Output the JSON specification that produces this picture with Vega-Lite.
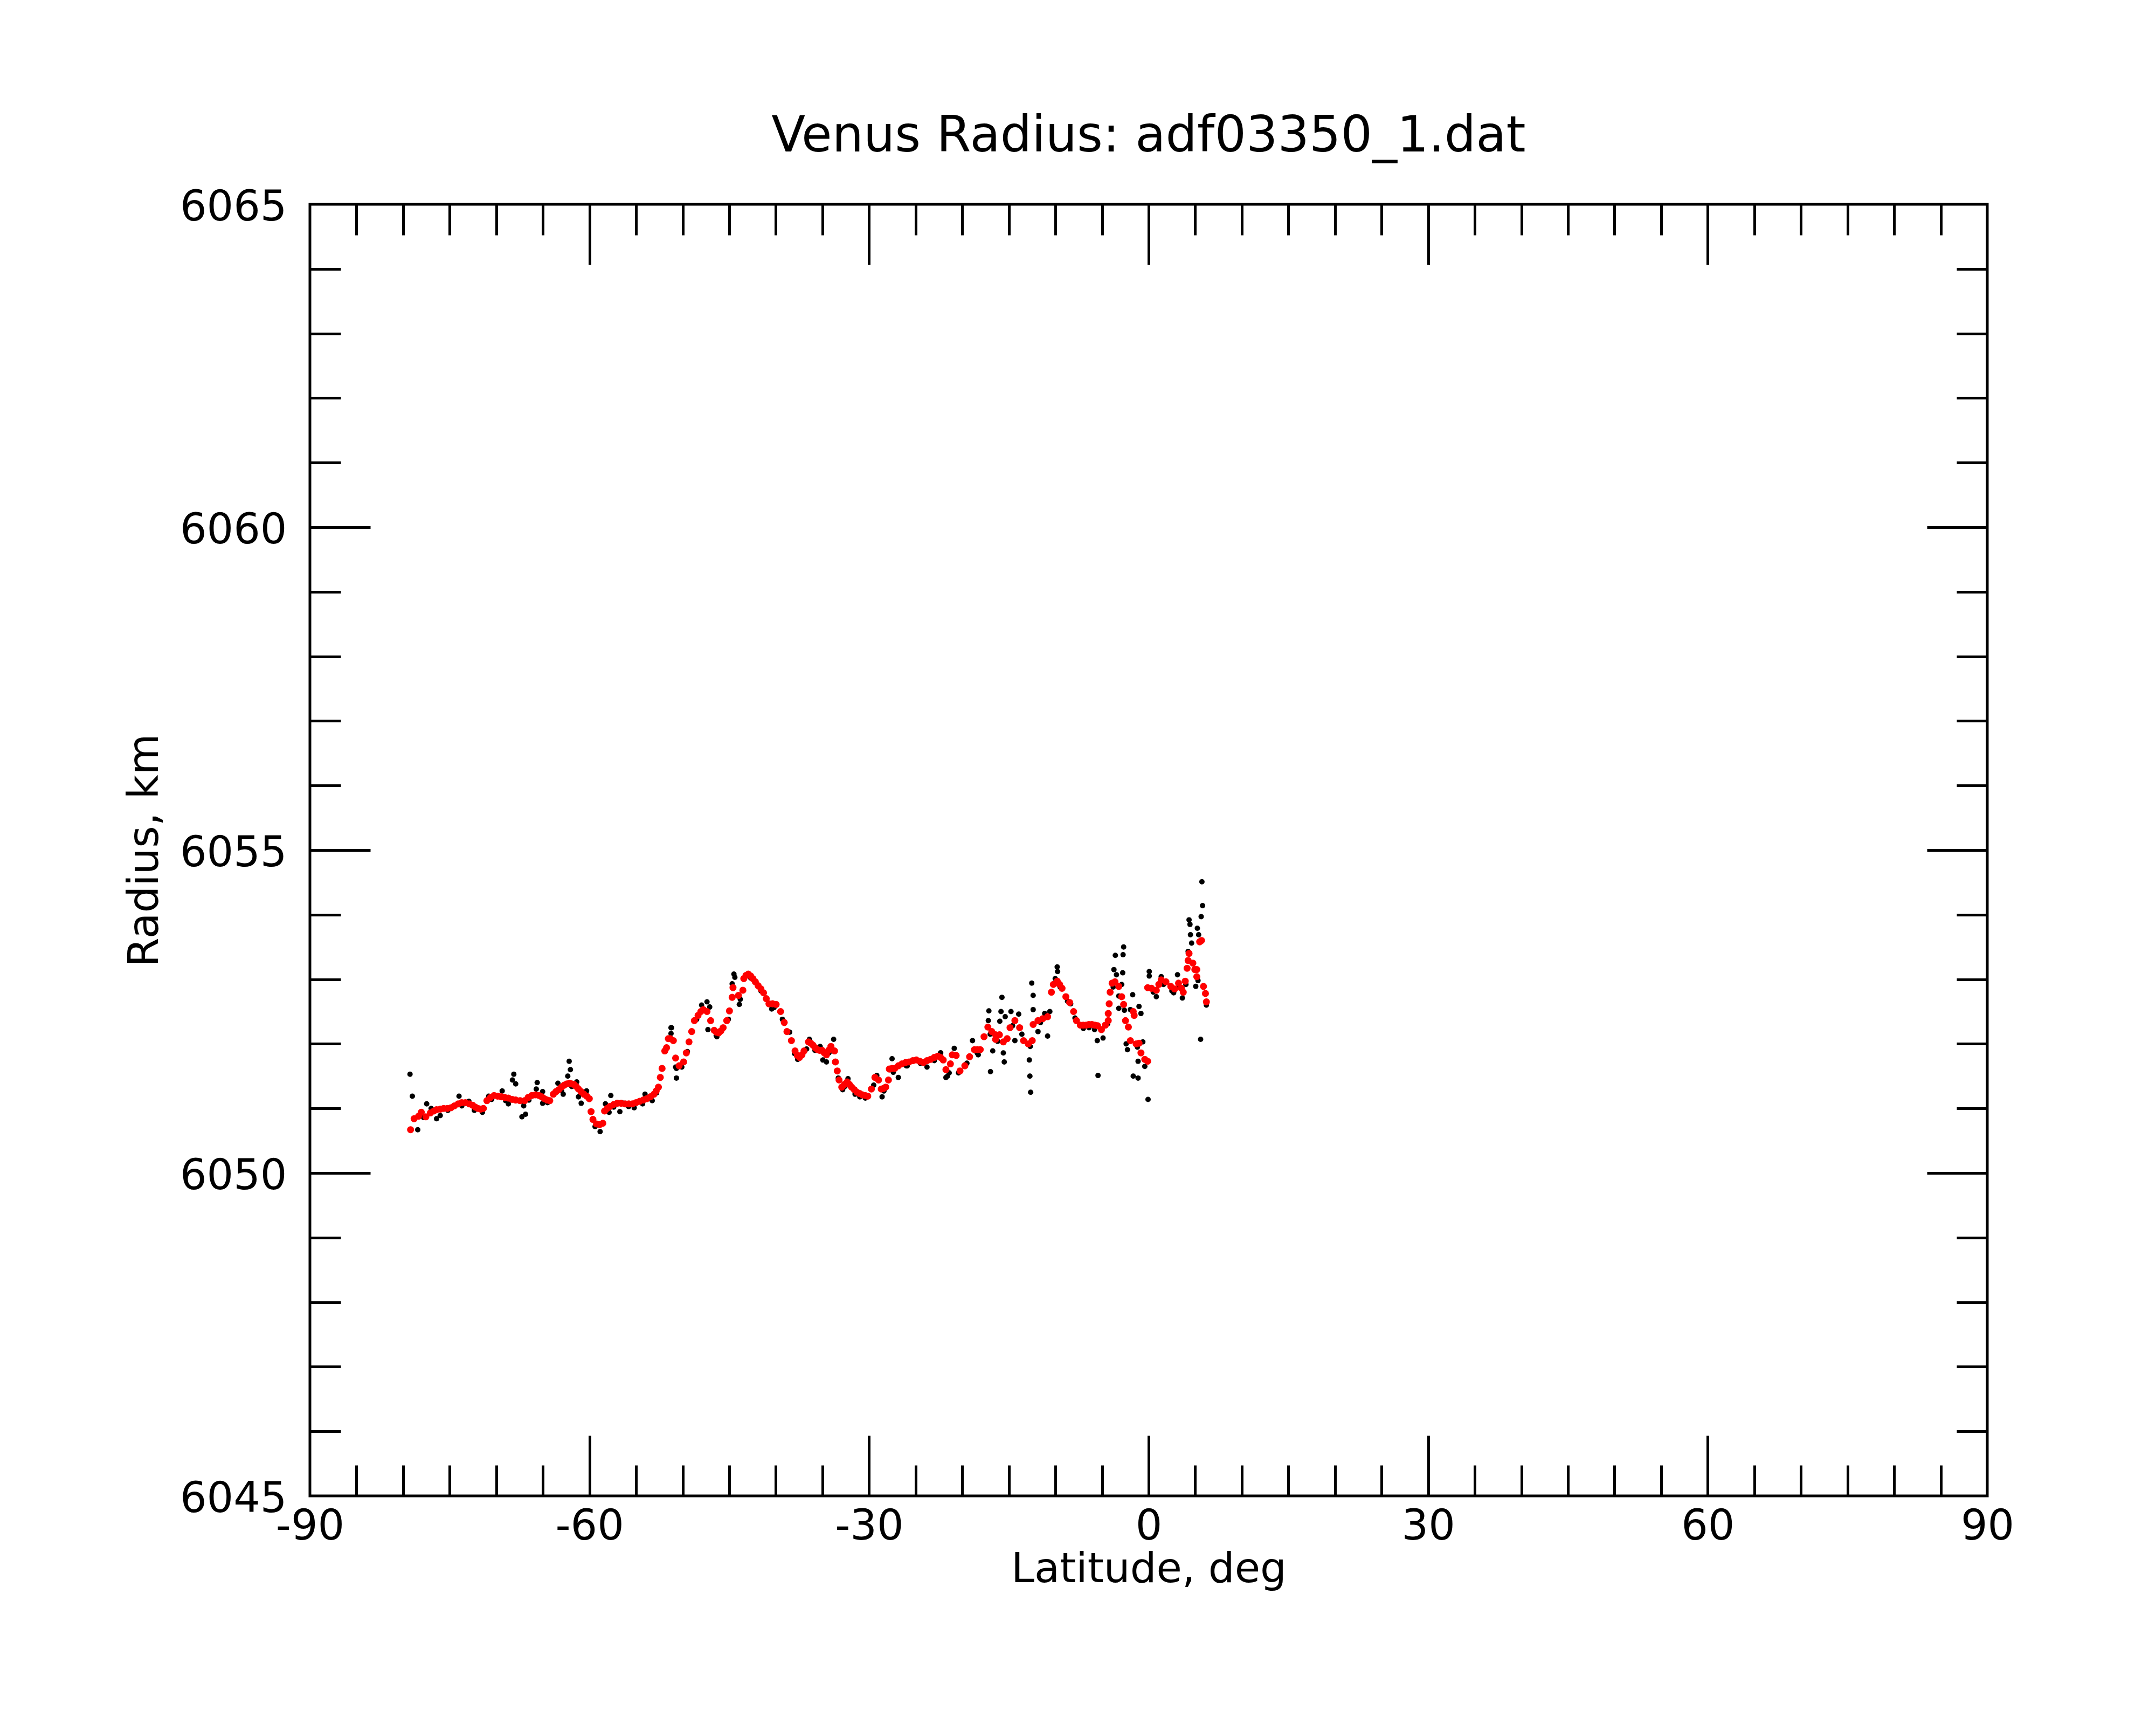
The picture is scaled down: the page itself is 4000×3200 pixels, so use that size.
{
  "$schema": "https://vega.github.io/schema/vega-lite/v6.json",
  "autosize": {"type": "none"},
  "padding": {"left": 575, "top": 379, "right": 313, "bottom": 425},
  "width": 3112,
  "height": 2396,
  "background": "white",
  "title": {
    "text": "Venus Radius: adf03350_1.dat",
    "font": "DejaVu Sans", "fontSize": 92, "fontWeight": "normal", "color": "black",
    "anchor": "middle", "frame": "group", "baseline": "alphabetic", "offset": -27
  },
  "datasets": {
    "raw": [
      {"lat": -79.26, "r": 6051.53}, {"lat": -79.01, "r": 6051.19}, {"lat": -78.43, "r": 6050.67},
      {"lat": -77.8, "r": 6050.86}, {"lat": -77.47, "r": 6051.07}, {"lat": -76.99, "r": 6051.0},
      {"lat": -76.41, "r": 6050.84}, {"lat": -76.02, "r": 6050.89}, {"lat": -75.2, "r": 6050.97},
      {"lat": -74.0, "r": 6051.19}, {"lat": -73.7, "r": 6051.04}, {"lat": -72.94, "r": 6051.11},
      {"lat": -72.36, "r": 6050.97}, {"lat": -71.49, "r": 6050.94}, {"lat": -70.82, "r": 6051.19},
      {"lat": -70.5, "r": 6051.14}, {"lat": -69.37, "r": 6051.27}, {"lat": -69.0, "r": 6051.12},
      {"lat": -68.7, "r": 6051.07}, {"lat": -68.12, "r": 6051.53}, {"lat": -68.27, "r": 6051.44},
      {"lat": -67.92, "r": 6051.38}, {"lat": -67.06, "r": 6051.04}, {"lat": -67.25, "r": 6050.87},
      {"lat": -66.86, "r": 6050.91}, {"lat": -66.5, "r": 6051.13}, {"lat": -65.61, "r": 6051.4},
      {"lat": -65.71, "r": 6051.3}, {"lat": -65.03, "r": 6051.26}, {"lat": -65.03, "r": 6051.08},
      {"lat": -64.5, "r": 6051.09}, {"lat": -63.39, "r": 6051.39}, {"lat": -63.0, "r": 6051.28},
      {"lat": -62.82, "r": 6051.22}, {"lat": -62.18, "r": 6051.73}, {"lat": -62.05, "r": 6051.6},
      {"lat": -62.33, "r": 6051.5}, {"lat": -61.9, "r": 6051.34}, {"lat": -61.37, "r": 6051.41},
      {"lat": -61.18, "r": 6051.18}, {"lat": -60.89, "r": 6051.08}, {"lat": -60.31, "r": 6051.27},
      {"lat": -59.4, "r": 6050.72}, {"lat": -58.86, "r": 6050.64}, {"lat": -58.29, "r": 6051.07},
      {"lat": -57.71, "r": 6051.2}, {"lat": -57.9, "r": 6050.94}, {"lat": -57.4, "r": 6051.02},
      {"lat": -56.74, "r": 6050.95}, {"lat": -56.36, "r": 6051.08}, {"lat": -55.8, "r": 6051.03},
      {"lat": -55.2, "r": 6051.01}, {"lat": -54.3, "r": 6051.07}, {"lat": -54.04, "r": 6051.22},
      {"lat": -53.27, "r": 6051.12}, {"lat": -52.8, "r": 6051.24}, {"lat": -51.25, "r": 6052.25},
      {"lat": -51.25, "r": 6052.16}, {"lat": -51.19, "r": 6052.25}, {"lat": -50.67, "r": 6051.62},
      {"lat": -50.67, "r": 6051.47}, {"lat": -50.76, "r": 6051.64}, {"lat": -50.09, "r": 6051.64},
      {"lat": -49.5, "r": 6051.88}, {"lat": -48.5, "r": 6052.38}, {"lat": -47.97, "r": 6052.6},
      {"lat": -47.39, "r": 6052.65}, {"lat": -47.1, "r": 6052.57}, {"lat": -47.29, "r": 6052.22},
      {"lat": -46.4, "r": 6052.13}, {"lat": -46.33, "r": 6052.11}, {"lat": -45.1, "r": 6052.38},
      {"lat": -44.5, "r": 6053.08}, {"lat": -44.4, "r": 6053.03}, {"lat": -44.69, "r": 6052.93},
      {"lat": -43.92, "r": 6052.61}, {"lat": -43.82, "r": 6052.69}, {"lat": -42.7, "r": 6053.02},
      {"lat": -41.6, "r": 6052.82}, {"lat": -40.45, "r": 6052.54}, {"lat": -40.2, "r": 6052.56},
      {"lat": -39.3, "r": 6052.38}, {"lat": -38.52, "r": 6052.18}, {"lat": -38.0, "r": 6051.85},
      {"lat": -37.66, "r": 6051.76}, {"lat": -36.7, "r": 6051.92}, {"lat": -36.4, "r": 6052.07},
      {"lat": -35.8, "r": 6051.9}, {"lat": -35.25, "r": 6051.96}, {"lat": -34.96, "r": 6051.75},
      {"lat": -34.57, "r": 6051.72}, {"lat": -34.3, "r": 6051.86}, {"lat": -33.8, "r": 6052.07},
      {"lat": -33.3, "r": 6051.47}, {"lat": -32.83, "r": 6051.29}, {"lat": -32.6, "r": 6051.34},
      {"lat": -32.26, "r": 6051.46}, {"lat": -31.5, "r": 6051.22}, {"lat": -30.99, "r": 6051.18},
      {"lat": -30.4, "r": 6051.16}, {"lat": -29.5, "r": 6051.36}, {"lat": -29.17, "r": 6051.51},
      {"lat": -28.6, "r": 6051.18}, {"lat": -28.4, "r": 6051.27}, {"lat": -27.53, "r": 6051.77},
      {"lat": -27.4, "r": 6051.56}, {"lat": -26.86, "r": 6051.48}, {"lat": -26.0, "r": 6051.66},
      {"lat": -25.9, "r": 6051.66}, {"lat": -24.5, "r": 6051.7}, {"lat": -23.78, "r": 6051.64},
      {"lat": -23.0, "r": 6051.74}, {"lat": -22.33, "r": 6051.86}, {"lat": -22.31, "r": 6051.86},
      {"lat": -21.75, "r": 6051.48}, {"lat": -21.58, "r": 6051.5}, {"lat": -21.4, "r": 6051.55},
      {"lat": -20.86, "r": 6051.93}, {"lat": -20.4, "r": 6051.55}, {"lat": -19.5, "r": 6051.7},
      {"lat": -18.9, "r": 6052.05}, {"lat": -18.4, "r": 6051.86}, {"lat": -18.28, "r": 6051.83},
      {"lat": -17.14, "r": 6052.51}, {"lat": -17.2, "r": 6052.36}, {"lat": -17.0, "r": 6052.15},
      {"lat": -16.97, "r": 6051.57}, {"lat": -16.73, "r": 6051.89}, {"lat": -16.2, "r": 6052.04},
      {"lat": -15.74, "r": 6052.72}, {"lat": -15.84, "r": 6052.5}, {"lat": -15.97, "r": 6052.35},
      {"lat": -15.39, "r": 6052.42}, {"lat": -14.77, "r": 6052.5}, {"lat": -15.49, "r": 6051.72},
      {"lat": -15.59, "r": 6051.86}, {"lat": -14.6, "r": 6052.28}, {"lat": -14.35, "r": 6052.05},
      {"lat": -13.94, "r": 6052.46}, {"lat": -13.6, "r": 6052.15}, {"lat": -12.7, "r": 6051.96},
      {"lat": -12.54, "r": 6052.94}, {"lat": -12.39, "r": 6052.75}, {"lat": -12.39, "r": 6052.53},
      {"lat": -12.8, "r": 6051.75}, {"lat": -12.74, "r": 6051.5}, {"lat": -12.66, "r": 6051.25},
      {"lat": -11.87, "r": 6052.19}, {"lat": -11.6, "r": 6052.33}, {"lat": -11.15, "r": 6052.47},
      {"lat": -10.84, "r": 6052.12}, {"lat": -10.6, "r": 6052.5}, {"lat": -9.81, "r": 6053.19},
      {"lat": -9.77, "r": 6053.12}, {"lat": -10.02, "r": 6053.01}, {"lat": -9.5, "r": 6052.88},
      {"lat": -8.7, "r": 6052.66}, {"lat": -8.36, "r": 6052.62}, {"lat": -7.9, "r": 6052.4},
      {"lat": -7.0, "r": 6052.24}, {"lat": -6.4, "r": 6052.25}, {"lat": -5.8, "r": 6052.22},
      {"lat": -5.51, "r": 6052.05}, {"lat": -5.43, "r": 6051.51}, {"lat": -4.89, "r": 6052.09},
      {"lat": -4.4, "r": 6052.31}, {"lat": -3.8, "r": 6052.88}, {"lat": -3.57, "r": 6053.37},
      {"lat": -3.72, "r": 6053.15}, {"lat": -3.45, "r": 6053.07}, {"lat": -3.2, "r": 6052.74},
      {"lat": -3.2, "r": 6052.55}, {"lat": -2.89, "r": 6052.92}, {"lat": -2.78, "r": 6053.1},
      {"lat": -2.74, "r": 6053.38}, {"lat": -2.68, "r": 6053.5}, {"lat": -2.6, "r": 6052.52},
      {"lat": -2.41, "r": 6052.0}, {"lat": -2.27, "r": 6051.91}, {"lat": -1.96, "r": 6052.53},
      {"lat": -1.71, "r": 6052.76}, {"lat": -1.65, "r": 6051.5}, {"lat": -1.2, "r": 6051.95},
      {"lat": -1.13, "r": 6051.47}, {"lat": -1.13, "r": 6051.73}, {"lat": -1.03, "r": 6052.58},
      {"lat": -0.82, "r": 6052.47}, {"lat": -0.62, "r": 6052.03}, {"lat": -0.41, "r": 6051.65},
      {"lat": -0.06, "r": 6051.14}, {"lat": 0.07, "r": 6053.12}, {"lat": 0.07, "r": 6053.05},
      {"lat": 0.5, "r": 6052.8}, {"lat": 0.83, "r": 6052.73}, {"lat": 1.35, "r": 6053.04},
      {"lat": 1.6, "r": 6052.92}, {"lat": 2.5, "r": 6052.82}, {"lat": 2.69, "r": 6052.79},
      {"lat": 3.1, "r": 6053.07}, {"lat": 3.3, "r": 6052.88}, {"lat": 3.62, "r": 6052.71},
      {"lat": 4.0, "r": 6052.92}, {"lat": 4.24, "r": 6053.43}, {"lat": 4.34, "r": 6053.92},
      {"lat": 4.44, "r": 6053.85}, {"lat": 4.49, "r": 6053.69}, {"lat": 4.61, "r": 6053.56},
      {"lat": 5.06, "r": 6052.89}, {"lat": 5.23, "r": 6053.79}, {"lat": 5.3, "r": 6052.98},
      {"lat": 5.37, "r": 6053.69}, {"lat": 5.58, "r": 6052.07}, {"lat": 5.64, "r": 6053.97},
      {"lat": 5.72, "r": 6054.51}, {"lat": 5.79, "r": 6054.14}, {"lat": 6.2, "r": 6052.6}
    ],
    "fit": [
      {"lat": -79.2, "r": 6050.67}, {"lat": -78.82, "r": 6050.84}, {"lat": -78.34, "r": 6050.88},
      {"lat": -78.05, "r": 6050.94}, {"lat": -77.56, "r": 6050.87}, {"lat": -77.08, "r": 6050.93},
      {"lat": -76.7, "r": 6050.96}, {"lat": -76.41, "r": 6050.98}, {"lat": -76.0, "r": 6050.99},
      {"lat": -75.64, "r": 6051.0}, {"lat": -75.25, "r": 6051.0}, {"lat": -74.87, "r": 6051.01},
      {"lat": -74.5, "r": 6051.04}, {"lat": -74.09, "r": 6051.07}, {"lat": -73.7, "r": 6051.09},
      {"lat": -73.32, "r": 6051.09}, {"lat": -72.9, "r": 6051.07}, {"lat": -72.55, "r": 6051.05},
      {"lat": -72.25, "r": 6051.02}, {"lat": -71.97, "r": 6051.0}, {"lat": -71.68, "r": 6050.99},
      {"lat": -71.39, "r": 6051.0}, {"lat": -71.01, "r": 6051.12}, {"lat": -70.62, "r": 6051.17},
      {"lat": -70.24, "r": 6051.2}, {"lat": -69.85, "r": 6051.19}, {"lat": -69.47, "r": 6051.18},
      {"lat": -69.1, "r": 6051.17}, {"lat": -68.7, "r": 6051.16}, {"lat": -68.3, "r": 6051.14},
      {"lat": -67.92, "r": 6051.13}, {"lat": -67.45, "r": 6051.12}, {"lat": -66.96, "r": 6051.12},
      {"lat": -66.58, "r": 6051.17}, {"lat": -66.19, "r": 6051.2}, {"lat": -65.8, "r": 6051.21},
      {"lat": -65.42, "r": 6051.2}, {"lat": -65.13, "r": 6051.18}, {"lat": -64.84, "r": 6051.15},
      {"lat": -64.55, "r": 6051.13}, {"lat": -64.26, "r": 6051.12}, {"lat": -63.88, "r": 6051.22},
      {"lat": -63.6, "r": 6051.26}, {"lat": -63.3, "r": 6051.29}, {"lat": -63.0, "r": 6051.33},
      {"lat": -62.72, "r": 6051.36}, {"lat": -62.43, "r": 6051.38}, {"lat": -62.14, "r": 6051.39},
      {"lat": -61.9, "r": 6051.38}, {"lat": -61.66, "r": 6051.37}, {"lat": -61.42, "r": 6051.34},
      {"lat": -61.18, "r": 6051.3}, {"lat": -60.9, "r": 6051.26}, {"lat": -60.6, "r": 6051.22},
      {"lat": -60.3, "r": 6051.19}, {"lat": -60.02, "r": 6051.15}, {"lat": -59.83, "r": 6050.95},
      {"lat": -59.63, "r": 6050.83}, {"lat": -59.25, "r": 6050.76}, {"lat": -58.9, "r": 6050.75},
      {"lat": -58.57, "r": 6050.77}, {"lat": -58.38, "r": 6050.96}, {"lat": -58.1, "r": 6051.0},
      {"lat": -57.81, "r": 6051.03}, {"lat": -57.42, "r": 6051.06}, {"lat": -57.03, "r": 6051.08},
      {"lat": -56.6, "r": 6051.08}, {"lat": -56.17, "r": 6051.07}, {"lat": -55.78, "r": 6051.07},
      {"lat": -55.39, "r": 6051.07}, {"lat": -55.0, "r": 6051.09}, {"lat": -54.62, "r": 6051.11},
      {"lat": -54.23, "r": 6051.13}, {"lat": -53.85, "r": 6051.15}, {"lat": -53.46, "r": 6051.18},
      {"lat": -53.08, "r": 6051.22}, {"lat": -52.84, "r": 6051.27}, {"lat": -52.6, "r": 6051.33},
      {"lat": -52.4, "r": 6051.48}, {"lat": -52.21, "r": 6051.62}, {"lat": -51.92, "r": 6051.89},
      {"lat": -51.73, "r": 6051.94}, {"lat": -51.54, "r": 6052.08}, {"lat": -51.34, "r": 6052.08},
      {"lat": -51.0, "r": 6052.05}, {"lat": -50.76, "r": 6051.78}, {"lat": -50.38, "r": 6051.66},
      {"lat": -49.9, "r": 6051.72}, {"lat": -49.61, "r": 6051.86}, {"lat": -49.32, "r": 6052.03},
      {"lat": -49.03, "r": 6052.19}, {"lat": -48.74, "r": 6052.36}, {"lat": -48.35, "r": 6052.44},
      {"lat": -48.05, "r": 6052.5}, {"lat": -47.78, "r": 6052.53}, {"lat": -47.39, "r": 6052.5},
      {"lat": -47.0, "r": 6052.36}, {"lat": -46.62, "r": 6052.21}, {"lat": -46.38, "r": 6052.18},
      {"lat": -46.14, "r": 6052.17}, {"lat": -45.9, "r": 6052.2}, {"lat": -45.66, "r": 6052.25},
      {"lat": -45.27, "r": 6052.36}, {"lat": -44.98, "r": 6052.51}, {"lat": -44.69, "r": 6052.72},
      {"lat": -44.6, "r": 6052.87}, {"lat": -44.02, "r": 6052.75}, {"lat": -43.54, "r": 6052.83},
      {"lat": -43.44, "r": 6053.01}, {"lat": -43.2, "r": 6053.06}, {"lat": -42.96, "r": 6053.08},
      {"lat": -42.7, "r": 6053.05}, {"lat": -42.47, "r": 6053.01}, {"lat": -42.2, "r": 6052.96},
      {"lat": -41.9, "r": 6052.9}, {"lat": -41.6, "r": 6052.85}, {"lat": -41.32, "r": 6052.79},
      {"lat": -41.03, "r": 6052.7}, {"lat": -40.74, "r": 6052.62}, {"lat": -40.35, "r": 6052.62},
      {"lat": -39.97, "r": 6052.61}, {"lat": -39.49, "r": 6052.5}, {"lat": -39.1, "r": 6052.33},
      {"lat": -38.81, "r": 6052.19}, {"lat": -38.33, "r": 6052.05}, {"lat": -37.94, "r": 6051.89},
      {"lat": -37.7, "r": 6051.82}, {"lat": -37.46, "r": 6051.79}, {"lat": -37.2, "r": 6051.83},
      {"lat": -36.98, "r": 6051.89}, {"lat": -36.5, "r": 6052.03}, {"lat": -36.26, "r": 6052.01},
      {"lat": -36.02, "r": 6051.98}, {"lat": -35.78, "r": 6051.94}, {"lat": -35.53, "r": 6051.91},
      {"lat": -35.3, "r": 6051.9}, {"lat": -35.05, "r": 6051.9}, {"lat": -34.8, "r": 6051.86},
      {"lat": -34.57, "r": 6051.83}, {"lat": -34.33, "r": 6051.9}, {"lat": -34.09, "r": 6051.96},
      {"lat": -33.7, "r": 6051.89}, {"lat": -33.61, "r": 6051.72}, {"lat": -33.41, "r": 6051.58},
      {"lat": -33.22, "r": 6051.44}, {"lat": -32.93, "r": 6051.33}, {"lat": -32.65, "r": 6051.37},
      {"lat": -32.35, "r": 6051.41}, {"lat": -32.1, "r": 6051.37}, {"lat": -31.87, "r": 6051.33},
      {"lat": -31.58, "r": 6051.29}, {"lat": -31.29, "r": 6051.25}, {"lat": -31.0, "r": 6051.23},
      {"lat": -30.71, "r": 6051.21}, {"lat": -30.42, "r": 6051.2}, {"lat": -30.14, "r": 6051.19},
      {"lat": -29.75, "r": 6051.3}, {"lat": -29.37, "r": 6051.48}, {"lat": -28.98, "r": 6051.44},
      {"lat": -28.69, "r": 6051.3}, {"lat": -28.45, "r": 6051.31}, {"lat": -28.21, "r": 6051.33},
      {"lat": -27.92, "r": 6051.44}, {"lat": -27.82, "r": 6051.61}, {"lat": -27.53, "r": 6051.62},
      {"lat": -27.24, "r": 6051.62}, {"lat": -26.85, "r": 6051.66}, {"lat": -26.47, "r": 6051.69},
      {"lat": -26.08, "r": 6051.71}, {"lat": -25.7, "r": 6051.72}, {"lat": -25.3, "r": 6051.74},
      {"lat": -24.93, "r": 6051.75}, {"lat": -24.55, "r": 6051.73}, {"lat": -24.16, "r": 6051.71},
      {"lat": -23.78, "r": 6051.74}, {"lat": -23.39, "r": 6051.76}, {"lat": -23.0, "r": 6051.79},
      {"lat": -22.62, "r": 6051.81}, {"lat": -22.33, "r": 6051.79}, {"lat": -22.04, "r": 6051.75},
      {"lat": -21.75, "r": 6051.6}, {"lat": -21.27, "r": 6051.69}, {"lat": -21.07, "r": 6051.83},
      {"lat": -20.65, "r": 6051.82}, {"lat": -20.24, "r": 6051.58}, {"lat": -19.72, "r": 6051.66},
      {"lat": -19.21, "r": 6051.8}, {"lat": -18.69, "r": 6051.91}, {"lat": -18.38, "r": 6051.91},
      {"lat": -18.07, "r": 6051.91}, {"lat": -17.66, "r": 6052.11}, {"lat": -17.25, "r": 6052.26},
      {"lat": -16.83, "r": 6052.19}, {"lat": -16.42, "r": 6052.14}, {"lat": -16.42, "r": 6052.07},
      {"lat": -16.01, "r": 6052.14}, {"lat": -15.59, "r": 6052.03}, {"lat": -15.18, "r": 6052.08},
      {"lat": -14.87, "r": 6052.25}, {"lat": -14.35, "r": 6052.36}, {"lat": -13.84, "r": 6052.25},
      {"lat": -13.42, "r": 6052.05}, {"lat": -12.91, "r": 6052.0}, {"lat": -12.49, "r": 6052.05},
      {"lat": -12.39, "r": 6052.3}, {"lat": -11.87, "r": 6052.36}, {"lat": -11.36, "r": 6052.39},
      {"lat": -10.84, "r": 6052.42}, {"lat": -10.43, "r": 6052.8}, {"lat": -10.22, "r": 6052.92},
      {"lat": -9.81, "r": 6052.97}, {"lat": -9.55, "r": 6052.92}, {"lat": -9.29, "r": 6052.86},
      {"lat": -8.88, "r": 6052.73}, {"lat": -8.47, "r": 6052.64}, {"lat": -8.05, "r": 6052.5},
      {"lat": -7.74, "r": 6052.36}, {"lat": -7.33, "r": 6052.29}, {"lat": -7.02, "r": 6052.29},
      {"lat": -6.71, "r": 6052.29}, {"lat": -6.4, "r": 6052.3}, {"lat": -6.09, "r": 6052.3},
      {"lat": -5.78, "r": 6052.29}, {"lat": -5.47, "r": 6052.28}, {"lat": -5.06, "r": 6052.22},
      {"lat": -4.64, "r": 6052.29}, {"lat": -4.33, "r": 6052.36}, {"lat": -4.33, "r": 6052.47},
      {"lat": -4.23, "r": 6052.62}, {"lat": -4.13, "r": 6052.8}, {"lat": -3.92, "r": 6052.94},
      {"lat": -3.61, "r": 6052.96}, {"lat": -3.2, "r": 6052.89}, {"lat": -2.89, "r": 6052.73},
      {"lat": -2.68, "r": 6052.61}, {"lat": -2.48, "r": 6052.36}, {"lat": -2.17, "r": 6052.26},
      {"lat": -1.96, "r": 6052.05}, {"lat": -1.65, "r": 6052.5}, {"lat": -1.55, "r": 6052.44},
      {"lat": -1.34, "r": 6052.0}, {"lat": -1.03, "r": 6052.01}, {"lat": -0.82, "r": 6051.86},
      {"lat": -0.41, "r": 6051.76}, {"lat": -0.1, "r": 6051.73}, {"lat": -0.1, "r": 6052.87},
      {"lat": 0.31, "r": 6052.86}, {"lat": 0.83, "r": 6052.83}, {"lat": 1.1, "r": 6052.92},
      {"lat": 1.35, "r": 6052.99}, {"lat": 1.86, "r": 6052.96}, {"lat": 2.38, "r": 6052.89},
      {"lat": 2.79, "r": 6052.85}, {"lat": 3.21, "r": 6052.94}, {"lat": 3.52, "r": 6052.86},
      {"lat": 3.72, "r": 6052.8}, {"lat": 3.93, "r": 6052.97}, {"lat": 4.13, "r": 6053.17},
      {"lat": 4.24, "r": 6053.29}, {"lat": 4.34, "r": 6053.4}, {"lat": 4.75, "r": 6053.25},
      {"lat": 4.96, "r": 6053.15}, {"lat": 5.17, "r": 6053.15}, {"lat": 5.17, "r": 6053.04},
      {"lat": 5.48, "r": 6053.58}, {"lat": 5.68, "r": 6053.6}, {"lat": 5.89, "r": 6052.89},
      {"lat": 6.1, "r": 6052.78}, {"lat": 6.2, "r": 6052.65}
    ]
  },
  "layer": [
    {
      "data": {"name": "raw"},
      "mark": {"type": "circle", "color": "black", "size": 100, "opacity": 1},
      "encoding": {
        "x": {
          "field": "lat", "type": "quantitative",
          "scale": {"domain": [-90, 90], "nice": false, "zero": false},
          "axis": {
            "orient": "bottom", "values": [-90, -60, -30, 0, 30, 60, 90],
            "ticks": false, "tickSize": 0, "labelPadding": 18, "labelFlush": false, "labelOverlap": false,
            "labelLimit": 0, "labelExpr": "'' + datum.value",
            "title": "Latitude, deg", "titleFontSize": 77, "titleX": 1556, "titleY": 159,
            "titleBaseline": "alphabetic", "titleAlign": "center"
          }
        },
        "y": {
          "field": "r", "type": "quantitative",
          "scale": {"domain": [6045, 6065], "nice": false, "zero": false},
          "axis": {
            "orient": "left", "values": [6045, 6050, 6055, 6060, 6065],
            "ticks": false, "tickSize": 0, "labelPadding": 43, "labelOffset": 6,
            "labelFlush": false, "labelOverlap": false, "labelBaseline": "middle",
            "labelLimit": 0, "labelExpr": "'' + datum.value",
            "title": "Radius, km", "titleX": -283, "titleY": 1198, "titleAngle": 270,
            "titleBaseline": "alphabetic", "titleAlign": "center"
          }
        }
      }
    },
    {
      "data": {"name": "fit"},
      "mark": {"type": "circle", "color": "#ff0000", "size": 170, "opacity": 1},
      "encoding": {
        "x": {
          "field": "lat", "type": "quantitative",
          "scale": {"domain": [-90, 90], "nice": false, "zero": false},
          "axis": {"orient": "bottom", "values": [-60, -30, 0, 30, 60], "tickSize": -112, "labels": false, "title": null}
        },
        "y": {
          "field": "r", "type": "quantitative",
          "scale": {"domain": [6045, 6065], "nice": false, "zero": false},
          "axis": {"orient": "left", "values": [6050, 6055, 6060], "tickSize": -112, "labels": false, "title": null}
        }
      }
    },
    {
      "data": {"name": "fit"},
      "mark": {"type": "circle", "opacity": 0},
      "encoding": {
        "x": {
          "field": "lat", "type": "quantitative",
          "scale": {"domain": [-90, 90], "nice": false, "zero": false},
          "axis": {"orient": "bottom", "values": [-85, -80, -75, -70, -65, -55, -50, -45, -40, -35, -25, -20, -15, -10, -5, 5, 10, 15, 20, 25, 35, 40, 45, 50, 55, 65, 70, 75, 80, 85], "tickSize": -57, "labels": false, "title": null}
        },
        "y": {
          "field": "r", "type": "quantitative",
          "scale": {"domain": [6045, 6065], "nice": false, "zero": false},
          "axis": {"orient": "left", "values": [6046, 6047, 6048, 6049, 6051, 6052, 6053, 6054, 6056, 6057, 6058, 6059, 6061, 6062, 6063, 6064], "tickSize": -57, "labels": false, "title": null}
        }
      }
    },
    {
      "data": {"name": "fit"},
      "mark": {"type": "circle", "opacity": 0},
      "encoding": {
        "x": {
          "field": "lat", "type": "quantitative",
          "scale": {"domain": [-90, 90], "nice": false, "zero": false},
          "axis": {"orient": "top", "values": [-60, -30, 0, 30, 60], "tickSize": -112, "labels": false, "title": null}
        },
        "y": {
          "field": "r", "type": "quantitative",
          "scale": {"domain": [6045, 6065], "nice": false, "zero": false},
          "axis": {"orient": "right", "values": [6050, 6055, 6060], "tickSize": -112, "labels": false, "title": null}
        }
      }
    },
    {
      "data": {"name": "fit"},
      "mark": {"type": "circle", "opacity": 0},
      "encoding": {
        "x": {
          "field": "lat", "type": "quantitative",
          "scale": {"domain": [-90, 90], "nice": false, "zero": false},
          "axis": {"orient": "top", "values": [-85, -80, -75, -70, -65, -55, -50, -45, -40, -35, -25, -20, -15, -10, -5, 5, 10, 15, 20, 25, 35, 40, 45, 50, 55, 65, 70, 75, 80, 85], "tickSize": -57, "labels": false, "title": null}
        },
        "y": {
          "field": "r", "type": "quantitative",
          "scale": {"domain": [6045, 6065], "nice": false, "zero": false},
          "axis": {"orient": "right", "values": [6046, 6047, 6048, 6049, 6051, 6052, 6053, 6054, 6056, 6057, 6058, 6059, 6061, 6062, 6063, 6064], "tickSize": -57, "labels": false, "title": null}
        }
      }
    }
  ],
  "resolve": {"axis": {"x": "independent", "y": "independent"}},
  "config": {
    "view": {"stroke": "black", "strokeWidth": 5},
    "axis": {
      "grid": false, "domain": false,
      "tickColor": "black", "tickWidth": 5,
      "labelFont": "DejaVu Sans", "labelFontSize": 78, "labelColor": "black",
      "titleFont": "DejaVu Sans", "titleFontSize": 78, "titleFontWeight": "normal", "titleColor": "black"
    }
  }
}
